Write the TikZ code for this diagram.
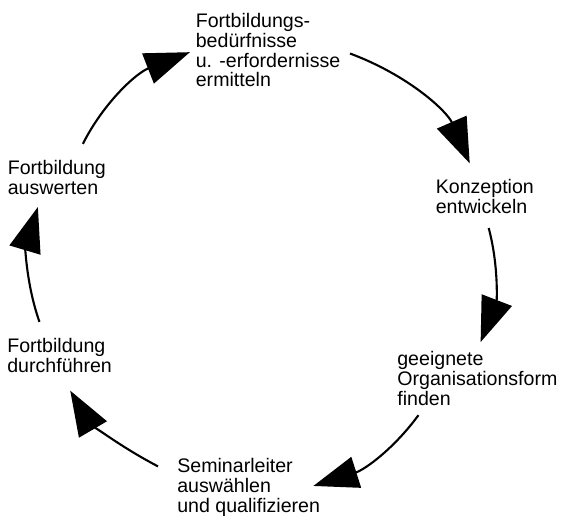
\documentclass[tikz,border=0pt]{standalone}
\usepackage{fontspec}
\setmainfont{Liberation Sans}
\usetikzlibrary{arrows.meta}

\tikzset{
  phase/.style={align=left, anchor=base west, inner sep=0pt,
    font=\fontsize{11.15}{11.38}\selectfont},
  cyc/.style={line width=1.2pt, -{Triangle[length=0.9cm, width=0.64cm]}}
}

\begin{document}
\begin{tikzpicture}[x=0.02cm, y=0.02cm]
  \useasboundingbox (0,0) rectangle (562,515);
  % Phases of the cycle
  \node[phase] (bedarf) at (195.5,428) {Fortbildungs-\\bedürfnisse\\u. -erfordernisse\\ermitteln};
  \node[phase] (konzept) at (435.5,302) {Konzeption\\entwickeln};
  \node[phase] (orgform) at (397,110) {geeignete\\Organisationsform\\finden};
  \node[phase] (leiter) at (177,3) {Seminarleiter\\auswählen\\und qualifizieren};
  \node[phase] (durchf) at (7,143) {Fortbildung\\durchführen};
  \node[phase] (auswert) at (7.5,321) {Fortbildung\\auswerten};
  % Arrows around the circle
  \draw[cyc, shorten <=0.35cm, shorten >=0.12cm] (auswert.44) to[bend left=21] (bedarf.west);
  \draw[cyc, shorten <=0.2cm, shorten >=0.33cm] (bedarf.east) to[bend left=23] (konzept.116);
  \draw[cyc, shorten <=0.3cm, shorten >=0.18cm] (konzept.south) to[bend left=18] (orgform.north);
  \draw[cyc, shorten <=0.24cm] (orgform.208) to[bend left=18] ([shift={(-7,1)}]leiter.east);
  \draw[cyc, shorten >=0.42cm] ([shift={(-19,0)}]leiter.164) to[bend left=16] (durchf.south);
  \draw[cyc, shorten <=0.33cm, shorten >=0.26cm] (durchf.130) to[bend left=18] (auswert.229);
\end{tikzpicture}
\end{document}
